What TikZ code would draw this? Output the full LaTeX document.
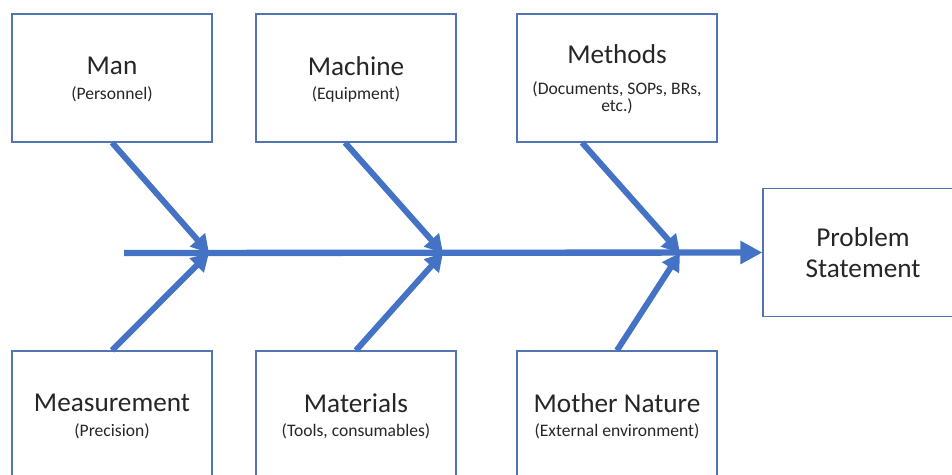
\documentclass[tikz,border=0pt]{standalone}
\usepackage{fontspec}
\setmainfont{Carlito}
\usetikzlibrary{arrows.meta, positioning, calc}
\definecolor{bonecol}{RGB}{68,114,196}
\definecolor{boxcol}{RGB}{82,116,178}
\newcommand{\ttl}{\fontsize{15.5}{17.5}\selectfont}
\newcommand{\subt}{\fontsize{10}{12}\selectfont}
\tikzset{
    block/.style = {draw=boxcol, line width=0.7pt, rectangle, minimum width=4cm, minimum height=2.56cm, align=center, text=black!85, font=\ttl},
    cause/.style = {block, text depth=-2pt},
    spine/.style = {draw=bonecol, line width=3.6pt, -{Triangle[length=12.5pt, width=12.5pt]}},
    bone/.style = {draw=bonecol, line width=3.4pt, -{Triangle[length=10pt, width=11pt]}}
}

\begin{document}
\begin{tikzpicture}[x=0.02cm, y=-0.02cm]
    \useasboundingbox (0,0) rectangle (952,474);
    \clip (0,0) rectangle (952,474);
    % Nodes
    \node [cause] (man) at (112,78) {Man\\[-3.4pt]{\subt (Personnel)}};
    \node [cause] (machine) at (356,78) {Machine\\[-3.4pt]{\subt (Equipment)}};
    \node [cause] (methods) at (617,78) {Methods\\[0pt]{\subt (Documents, SOPs, BRs,}\\[-7.8pt]{\subt etc.)}};
    \node [block] (problem) at (863,252.5) {Problem\\Statement};
    \node [cause] (measure) at (112,415) {Measurement\\[-3.4pt]{\subt (Precision)}};
    \node [cause] (materials) at (356,415) {Materials\\[-3.4pt]{\subt (Tools, consumables)}};
    \node [cause] (nature) at (617,415) {Mother Nature\\[-3.4pt]{\subt (External environment)}};

    % Spine
    \coordinate (tail) at (124,253);
    \coordinate (j1) at (209,253);
    \coordinate (j2) at (443,253);
    \coordinate (j3) at (680,253);
    \draw [spine] (tail) -- (problem.west);

    % Bones
    \draw [bone] (man.south) -- (j1);
    \draw [bone] (measure.north) -- (j1);
    \draw [bone] ($(machine.south)+(-11,0)$) -- (j2);
    \draw [bone] (materials.north) -- (j2);
    \draw [bone] ($(methods.south)+(-35,0)$) -- (j3);
    \draw [bone] (nature.north) -- (j3);
\end{tikzpicture}
\end{document}
